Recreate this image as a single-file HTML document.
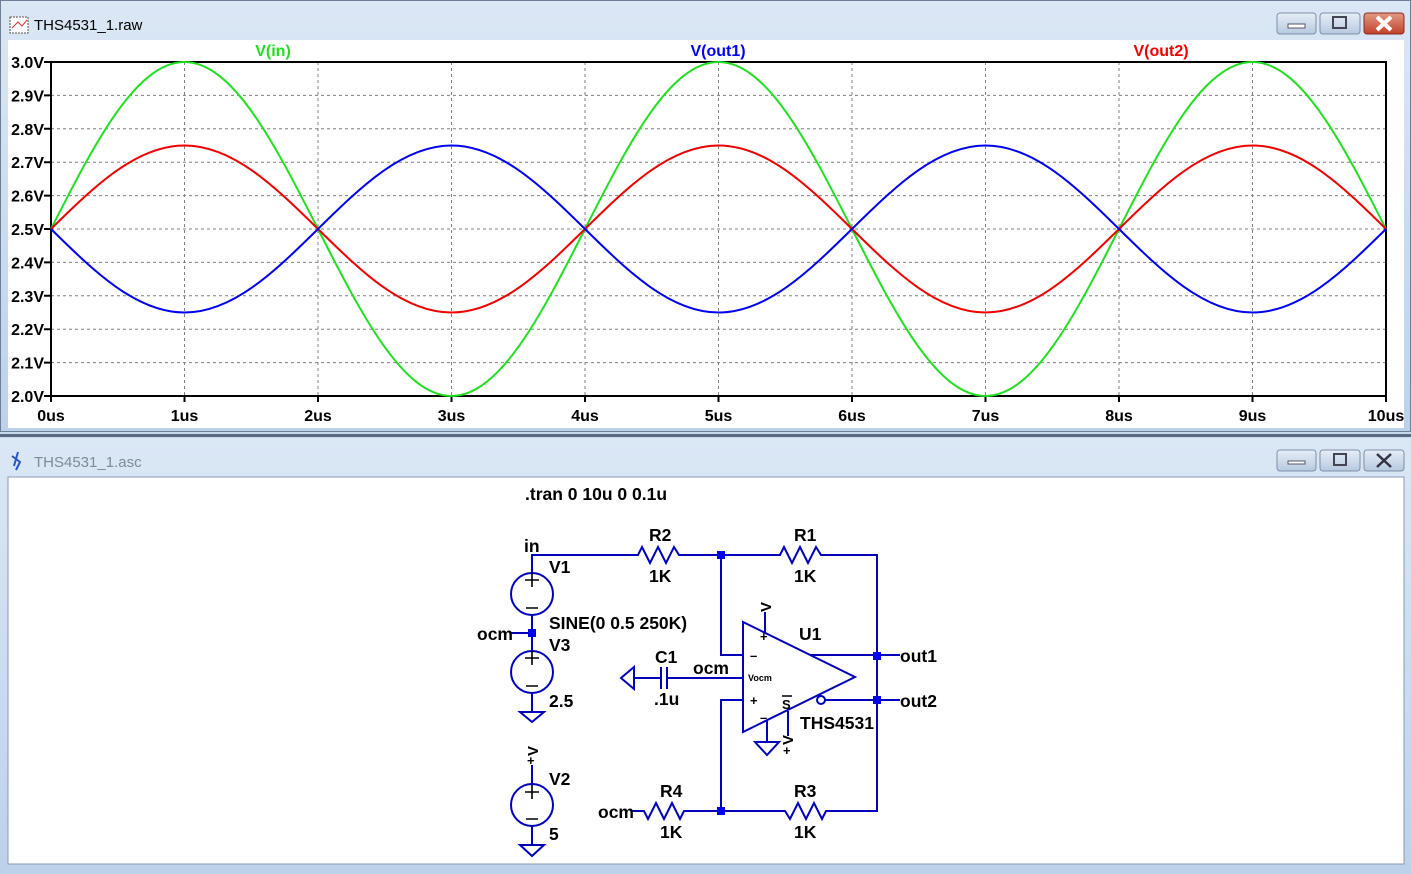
<!DOCTYPE html>
<html><head><meta charset="utf-8"><style>
html,body{margin:0;padding:0}
body{width:1411px;height:874px;position:relative;overflow:hidden;background:#c7d9ee;font-family:"Liberation Sans",sans-serif}
.t{font-weight:bold;font-family:"Liberation Sans",sans-serif}
</style></head><body>
<svg width="1411" height="874" viewBox="0 0 1411 874" xmlns="http://www.w3.org/2000/svg" style="position:absolute;left:0;top:0">
<defs>
<linearGradient id="tb" x1="0" y1="0" x2="0" y2="1"><stop offset="0" stop-color="#dbe7f5"/><stop offset="1" stop-color="#bcd2ea"/></linearGradient>
<linearGradient id="btn" x1="0" y1="0" x2="0" y2="1"><stop offset="0" stop-color="#e6eef8"/><stop offset="1" stop-color="#b7c9df"/></linearGradient>
<linearGradient id="cls" x1="0" y1="0" x2="0" y2="1"><stop offset="0" stop-color="#e39a86"/><stop offset="1" stop-color="#c2402a"/></linearGradient>
</defs>
<rect x="0" y="0" width="1411" height="432" fill="url(#tb)"/>
<rect x="0.5" y="0.5" width="1410" height="431" fill="none" stroke="#6d7f96"/>
<text x="34" y="30" font-size="15" fill="#000" font-family="Liberation Sans,sans-serif">THS4531_1.raw</text>
<rect x="10" y="17" width="18" height="16" fill="#fff" stroke="#555" stroke-dasharray="2,1"/>
<path d="M12 28 L18 22 L22 26 L27 20" stroke="#d33" fill="none"/>
<rect x="1277" y="13" width="39" height="21" rx="3" fill="url(#btn)" stroke="#7d8fa8"/>
<rect x="1288" y="24" width="17" height="4" fill="#fff" stroke="#556"/>
<rect x="1320" y="13" width="40" height="21" rx="3" fill="url(#btn)" stroke="#7d8fa8"/>
<rect x="1333" y="17" width="13" height="11" fill="none" stroke="#445" stroke-width="2"/>
<rect x="1364" y="13" width="40" height="21" rx="3" fill="url(#cls)" stroke="#8a2b1c"/>
<path d="M1377 17 L1391 30 M1391 17 L1377 30" stroke="#fff" stroke-width="4"/>
<rect x="8" y="40" width="1396" height="388" fill="#fff"/>
<g stroke="#808080" stroke-dasharray="3,3" stroke-width="1">
<path d="M184.5 62V396M318 62V396M451.5 62V396M585 62V396M718.5 62V396M852 62V396M985.5 62V396M1119 62V396M1252.5 62V396"/>
<path d="M51 95.4H1386M51 128.8H1386M51 162.2H1386M51 195.6H1386M51 229H1386M51 262.4H1386M51 295.8H1386M51 329.2H1386M51 362.6H1386"/>
</g>
<rect x="51" y="62" width="1335" height="334" fill="none" stroke="#000" stroke-width="2"/>
<g stroke="#000" stroke-width="2"><path d="M44 62H51M44 95.4H51M44 128.8H51M44 162.2H51M44 195.6H51M44 229H51M44 262.4H51M44 295.8H51M44 329.2H51M44 362.6H51M44 396H51"/>
<path d="M51 396V402M184.5 396V402M318 396V402M451.5 396V402M585 396V402M718.5 396V402M852 396V402M985.5 396V402M1119 396V402M1252.5 396V402M1386 396V402"/></g>
<g class="t" font-size="16" text-anchor="end" fill="#000">
<text x="44" y="68">3.0V</text><text x="44" y="101.4">2.9V</text><text x="44" y="134.8">2.8V</text><text x="44" y="168.2">2.7V</text><text x="44" y="201.6">2.6V</text><text x="44" y="235">2.5V</text><text x="44" y="268.4">2.4V</text><text x="44" y="301.8">2.3V</text><text x="44" y="335.2">2.2V</text><text x="44" y="368.6">2.1V</text><text x="44" y="402">2.0V</text>
</g>
<g class="t" font-size="16" text-anchor="middle" fill="#000">
<text x="51" y="421">0us</text><text x="184.5" y="421">1us</text><text x="318" y="421">2us</text><text x="451.5" y="421">3us</text><text x="585" y="421">4us</text><text x="718.5" y="421">5us</text><text x="852" y="421">6us</text><text x="985.5" y="421">7us</text><text x="1119" y="421">8us</text><text x="1252.5" y="421">9us</text><text x="1386" y="421">10us</text>
</g>
<g class="t" font-size="16" text-anchor="middle">
<text x="273" y="56" fill="#22dd22">V(in)</text>
<text x="718" y="56" fill="#0000ff">V(out1)</text>
<text x="1161" y="56" fill="#ee0000">V(out2)</text>
</g>
<g fill="none" stroke-width="2">
<path stroke="#22dd22" d="M51 229 c43.5,-85.55 85.2,-167 133.5,-167 c48.3,0 90,81.45 133.5,167 c43.5,85.55 85.2,167 133.5,167 c48.3,0 90,-81.45 133.5,-167 c43.5,-85.55 85.2,-167 133.5,-167 c48.3,0 90,81.45 133.5,167 c43.5,85.55 85.2,167 133.5,167 c48.3,0 90,-81.45 133.5,-167 c43.5,-85.55 85.2,-167 133.5,-167 c48.3,0 90,81.45 133.5,167"/>
<path stroke="#ee0000" d="M51 229 c43.5,-42.78 85.2,-83.5 133.5,-83.5 c48.3,0 90,40.72 133.5,83.5 c43.5,42.78 85.2,83.5 133.5,83.5 c48.3,0 90,-40.72 133.5,-83.5 c43.5,-42.78 85.2,-83.5 133.5,-83.5 c48.3,0 90,40.72 133.5,83.5 c43.5,42.78 85.2,83.5 133.5,83.5 c48.3,0 90,-40.72 133.5,-83.5 c43.5,-42.78 85.2,-83.5 133.5,-83.5 c48.3,0 90,40.72 133.5,83.5"/>
<path stroke="#0000ee" d="M51 229 c43.5,42.78 85.2,83.5 133.5,83.5 c48.3,0 90,-40.72 133.5,-83.5 c43.5,-42.78 85.2,-83.5 133.5,-83.5 c48.3,0 90,40.72 133.5,83.5 c43.5,42.78 85.2,83.5 133.5,83.5 c48.3,0 90,-40.72 133.5,-83.5 c43.5,-42.78 85.2,-83.5 133.5,-83.5 c48.3,0 90,40.72 133.5,83.5 c43.5,42.78 85.2,83.5 133.5,83.5 c48.3,0 90,-40.72 133.5,-83.5"/>
</g>
<rect x="0" y="434" width="1411" height="3" fill="#5a6b80"/>
<rect x="0" y="438" width="1411" height="436" fill="url(#tb)"/>
<text x="34" y="467" font-size="15" fill="#7d8a99" font-family="Liberation Sans,sans-serif">THS4531_1.asc</text>
<path d="M12 456 L20 462 L16 470 M18 452 L14 466" stroke="#2a55c0" stroke-width="2" fill="none"/>
<rect x="1277" y="450" width="39" height="21" rx="3" fill="url(#btn)" stroke="#7d8fa8"/>
<rect x="1288" y="461" width="17" height="3" fill="#fff" stroke="#556"/>
<rect x="1320" y="450" width="40" height="21" rx="3" fill="url(#btn)" stroke="#7d8fa8"/>
<rect x="1334" y="454" width="12" height="11" fill="none" stroke="#445" stroke-width="2"/>
<rect x="1364" y="450" width="40" height="21" rx="3" fill="url(#btn)" stroke="#7d8fa8"/>
<path d="M1377 454 L1391 467 M1391 454 L1377 467" stroke="#334" stroke-width="2.5"/>
<rect x="8" y="477" width="1396" height="387" fill="#fff" stroke="#8a9ab0"/>
<g stroke="#0000bb" stroke-width="2" fill="none">
<path d="M532 573V555H638 l4,-8 l8,16 l8,-16 l8,16 l8,-16 l5,8 H780 l4,-8 l8,16 l8,-16 l8,16 l8,-16 l5,8 H877V811H826 l-4,8 l-8,-16 l-8,16 l-8,-16 l-8,16 l-5,-8 H684 l-4,8 l-8,-16 l-8,16 l-8,-16 l-8,16 l-4,-8 H632"/>
<path d="M721 555V655H743M721 811V700H743"/>
<circle cx="532" cy="594" r="21"/><circle cx="532" cy="672" r="21"/>
<path d="M532 615V651M510 633H532M532 693V712"/>
<path d="M520 712H544L532 722Z"/>
<circle cx="532" cy="805" r="21"/>
<path d="M532 765V784M532 826V845M520 845H544L532 856Z"/>
<path d="M634 678H661M667 678H743M661 667V689M667 667V689"/>
<path d="M634 667L621 678L634 689Z"/>
<path d="M743 622V732L855 677Z"/>
<path d="M810 655H900M825 700H900"/>
<circle cx="821" cy="700" r="4"/>
<path d="M765 612V633M767 721V742M755 742H779L767 755Z M788 711V736"/>
</g>
<g stroke="#000" stroke-width="1.6" fill="none">
<path d="M525 580H539M532 573V587M526 608H538M525 658H539M532 651V665M526 686H538M525 792H539M532 785V799M526 819H538"/>
</g>
<g fill="#0000ee">
<rect x="528" y="629" width="8" height="8"/><rect x="717" y="551" width="8" height="8"/><rect x="873" y="652" width="8" height="8"/><rect x="873" y="696" width="8" height="8"/><rect x="717" y="807" width="8" height="8"/>
</g>
<g class="t" font-size="17.5" fill="#000">
<text x="525" y="500">.tran 0 10u 0 0.1u</text>
<text x="524" y="552">in</text>
<text x="549" y="573">V1</text>
<text x="549" y="629">SINE(0 0.5 250K)</text>
<text x="477" y="640">ocm</text>
<text x="549" y="651">V3</text>
<text x="549" y="707">2.5</text>
<text x="649" y="541">R2</text><text x="649" y="582">1K</text>
<text x="794" y="541">R1</text><text x="794" y="582">1K</text>
<text x="799" y="640">U1</text>
<text x="655" y="663">C1</text>
<text x="693" y="674">ocm</text>
<text x="654" y="705">.1u</text>
<text x="900" y="662">out1</text>
<text x="900" y="707">out2</text>
<text x="800" y="729">THS4531</text>
<text x="549" y="785">V2</text>
<text x="549" y="840">5</text>
<text x="598" y="818">ocm</text>
<text x="660" y="797">R4</text><text x="660" y="838">1K</text>
<text x="794" y="797">R3</text><text x="794" y="838">1K</text>
</g>
<g class="t" font-size="13" fill="#000">
<text x="750" y="660">–</text><text x="750" y="705">+</text>
<text x="760" y="641">+</text><text x="760" y="722">–</text>
<text x="782" y="709">S</text>
<text x="783" y="755">+</text>
<text x="527" y="765">+</text>
</g>
<path d="M782 696H792" stroke="#000" stroke-width="1.5"/>
<text x="748" y="681" font-size="9" font-weight="bold" fill="#000" font-family="Liberation Sans,sans-serif">Vocm</text>
<g class="t" font-size="15" fill="#000">
<text transform="translate(771,612) rotate(-90)">V</text>
<text transform="translate(793,745) rotate(-90)">V</text>
<text transform="translate(538,756) rotate(-90)">V</text>
</g>
</svg>
</body></html>
